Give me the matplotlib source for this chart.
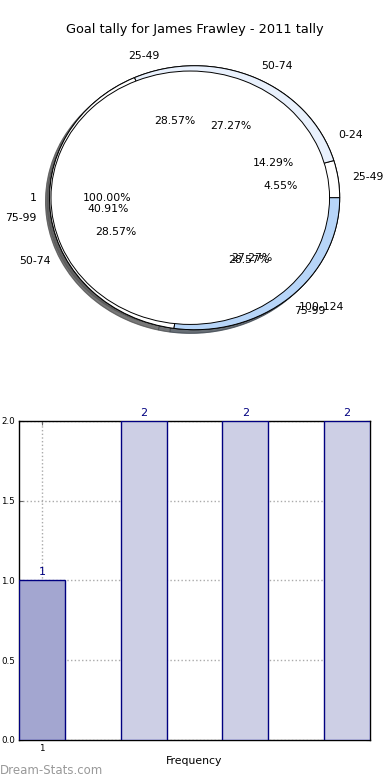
import matplotlib
matplotlib.use('Agg')
import matplotlib.pyplot as plt

# data ------------------------------------------------------------------
title = 'Goal tally for James Frawley - 2011 tally'

pieA_labels = ['1']
pieA_values = [1]

pieB_labels = ['25-49', '50-74', '75-99', '100-124']
pieB_values = [1, 6, 9, 6]

pieC_labels = ['0-24', '25-49', '50-74', '75-99']
pieC_values = [1, 2, 2, 2]

bar_x = [1, 2, 3, 4]
bar_values = [1, 2, 2, 2]
bar_ticks = [1]
bar_ticklabels = ['1']

# figure ----------------------------------------------------------------
fig = plt.figure(figsize=(3.9, 7.8), dpi=100)
fig.text(0.5, 1 - 30 / 780, title, ha='center', va='center', fontsize=9.3)

ax1 = fig.add_axes([0.034, 0.535, 0.93, 0.423])
edge = {'edgecolor': 'black', 'linewidth': 0.7}
txt = {'fontsize': 7.8}

ax1.pie(pieC_values, labels=pieC_labels, autopct='%.2f%%', shadow=True,
        colors=['white', '#e9f1fd', 'white', '#b7d5f8'],
        wedgeprops=edge, textprops=txt)
ax1.pie(pieB_values, labels=pieB_labels, autopct='%.2f%%', shadow=True,
        colors=['white', '#e9f1fd', 'white', '#b7d5f8'],
        wedgeprops=edge, textprops=txt)
ax1.pie(pieA_values, labels=pieA_labels, autopct='%.2f%%', shadow=True,
        colors=['white'], radius=0.96, center=(-0.03, 0.0),
        wedgeprops=edge, textprops=txt)
ax1.set_aspect('auto')
ax1.set_xlim(-1.25, 1.25)
ax1.set_ylim(-1.25, 1.25)
ax1.axis('off')

# bar chart -------------------------------------------------------------
ax2 = fig.add_axes([0.0487, 0.0513, 0.9, 0.409])
cols = ['#a3a6d0'] + ['#cdcfe5'] * (len(bar_values) - 1)
ax2.bar(bar_x, bar_values, width=0.45, color=cols, edgecolor='#000080',
        linewidth=1, zorder=3)
for x, v in zip(bar_x, bar_values):
    ax2.text(x, v + 0.02, str(v), ha='center', va='bottom',
             color='#000080', fontsize=8)

ax2.set_xlim(bar_x[0] - 0.225, bar_x[-1] + 0.225)
ax2.set_ylim(0, 2)
ax2.set_xticks(bar_ticks)
ax2.set_xticklabels(bar_ticklabels)
ax2.set_yticks([0, 0.5, 1.0, 1.5, 2.0])
ax2.set_yticklabels(['0.0', '0.5', '1.0', '1.5', '2.0'])
ax2.tick_params(labelsize=6.3, direction='in', right=True, top=True,
                length=3, color='#666666', pad=3)
ax2.grid(True, linestyle=':', color='#aaaaaa', linewidth=1, zorder=4)
ax2.set_xlabel('Frequency', fontsize=7.8, labelpad=2)
for s in ax2.spines.values():
    s.set_linewidth(1)

fig.text(0.0, 1 - 770 / 780, 'Dream-Stats.com', ha='left', va='center',
         fontsize=8.5, color='#999999')

fig.savefig('out.png', dpi=100)
